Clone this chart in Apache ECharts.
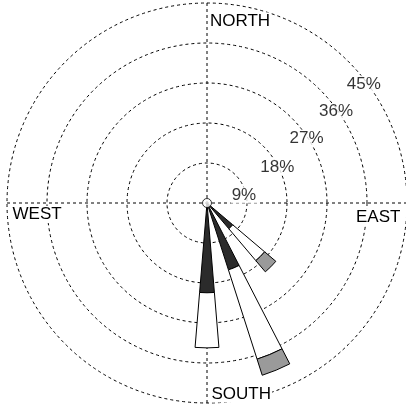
<!DOCTYPE html>
<html><head><meta charset="utf-8">
<script src="https://cdn.jsdelivr.net/npm/echarts@6/dist/echarts.min.js"></script>
<style>html,body{margin:0;padding:0;background:#fff}#c{width:406px;height:404px}</style>
</head><body><div id="c"></div><script>
// 16-point compass sectors, clockwise from north
const directions = ['N','NNE','NE','ENE','E','ESE','SE','SSE','S','SSW','SW','WSW','W','WNW','NW','NNW'];
// frequency (%) per speed class, stacked outward
const speedLow  = [null,null,null,null,null,null,7.6,15.8,20.2,null,null,null,null,null,null,null];
const speedMid  = [null,null,null,null,null,null,9.4,21.1,12.4,null,null,null,null,null,null,null];
const speedHigh = [null,null,null,null,null,null,3.3,3.8,null,null,null,null,null,null,null,null];
// ring ticks
const ringValues = [9,18,27,36,45];
const ringLabels = ['9%','18%','27%','36%','45%'];
// compass labels
const compassLabels = ['NORTH','EAST','SOUTH','WEST'];

const FONT = '"Liberation Sans", Arial, sans-serif';
const CENTER = [207, 203];
const R = 200;
const dotted = {color:'#000', width:1, type:[3,3]};

// where each ring label sits (compass degrees, radius %)
const ringLabelAngle = [77.8, 62.8, 57, 54.7, 52.8];
const ringLabelRadius = [8.5, 17.8, 26.7, 35.6, 44.3];

const chart = echarts.init(document.getElementById('c'), null, {renderer:'canvas'});

const compassPos = [
  {x:209, y:21, align:'left'},
  {x:355, y:217.5, align:'left'},
  {x:210.5, y:394, align:'left'},
  {x:11.5, y:214.5, align:'left'}
];

chart.setOption({
  animation:false,
  backgroundColor:'#fff',
  polar:[
    {center:CENTER, radius:R},
    {center:CENTER, radius:R}
  ],
  angleAxis:[
    {polarIndex:0, type:'category', data:directions, startAngle:90+11.25, clockwise:true,
     axisLine:{show:false}, axisTick:{show:false}, axisLabel:{show:false}, splitLine:{show:false}},
    {polarIndex:1, type:'value', min:0, max:360, interval:90, startAngle:90, clockwise:true,
     axisLine:{show:false}, axisTick:{show:false}, axisLabel:{show:false},
     splitLine:{show:true, lineStyle:dotted}}
  ],
  radiusAxis:[
    {polarIndex:0, type:'value', min:0, max:45, interval:9,
     axisLine:{show:false}, axisTick:{show:false}, axisLabel:{show:false}, splitLine:{show:false}},
    {polarIndex:1, type:'value', min:0, max:45, interval:9,
     axisLine:{show:false}, axisTick:{show:false}, axisLabel:{show:false},
     splitLine:{show:true, lineStyle:dotted}}
  ],
  series:[
    {type:'bar', name:'low', coordinateSystem:'polar', polarIndex:0, stack:'w', data:speedLow,
     barWidth:'42%', itemStyle:{color:'#2b2b2b', borderColor:'#000', borderWidth:1}, z:3},
    {type:'bar', name:'mid', coordinateSystem:'polar', polarIndex:0, stack:'w', data:speedMid,
     barWidth:'42%', itemStyle:{color:'#ffffff', borderColor:'#000', borderWidth:1}, z:3},
    {type:'bar', name:'high', coordinateSystem:'polar', polarIndex:0, stack:'w', data:speedHigh,
     barWidth:'42%', itemStyle:{color:'#9a9a9a', borderColor:'#000', borderWidth:1}, z:3},
    {type:'scatter', coordinateSystem:'polar', polarIndex:1, symbolSize:0, z:4,
     data: ringLabels.map((t,i)=>({value:[ringLabelRadius[i], ringLabelAngle[i]], name:t})),
     label:{show:true, position:'inside', formatter:p=>p.name, color:'#000',
            fontFamily:FONT, fontSize:17, backgroundColor:'#fff', padding:[0,1]}},
    {type:'scatter', coordinateSystem:'polar', polarIndex:1, z:5,
     data:[[0,0]], symbol:'circle', symbolSize:9,
     itemStyle:{color:'#fff', borderColor:'#000', borderWidth:1}}
  ],
  graphic: compassLabels.map((t,i)=>({
    type:'text', x:compassPos[i].x, y:compassPos[i].y, z:10,
    style:{text:t, fill:'#000', font:'17px '+FONT, align:compassPos[i].align, verticalAlign:'middle',
           backgroundColor:'#fff', padding:[0,1]}
  }))
});
</script></body></html>
